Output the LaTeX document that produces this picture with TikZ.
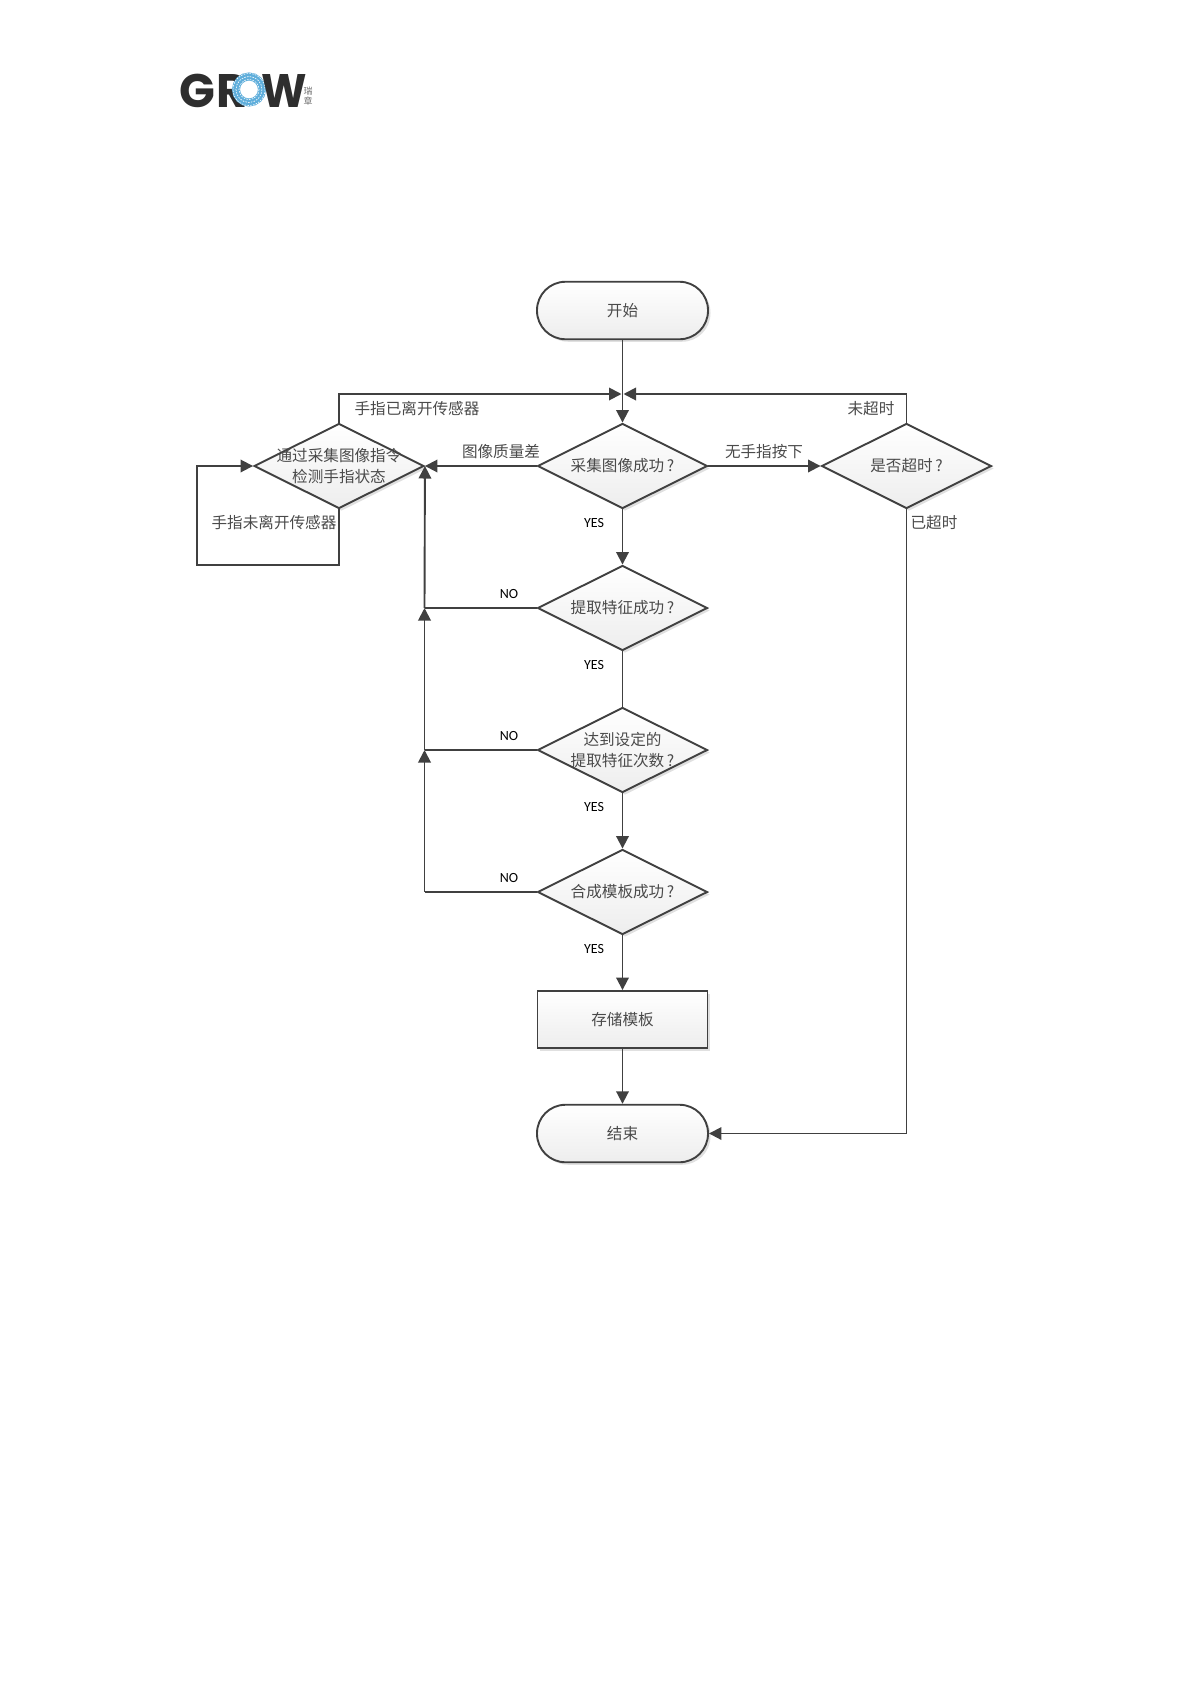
\documentclass[tikz,border=0pt]{standalone}
\usepackage{fontspec}
\setmainfont{Noto Sans CJK SC}
\newfontfamily\latinfont{Carlito}
\newfontfamily\logofont{Poppins}
\usetikzlibrary{shapes.geometric,arrows.meta,shadows,calc}
\definecolor{ink}{HTML}{404040}
\definecolor{txt}{HTML}{4A4A4A}
\definecolor{ringblue}{HTML}{5FAEDB}
\tikzset{
  x=1pt,y=-1pt,
  softshadow/.style={drop shadow={shadow xshift=2.5pt,shadow yshift=-2.5pt,fill=black,opacity=.12}},
  flowshape/.style={draw=ink,line width=1.9pt,top color=white,bottom color=black!7,softshadow,inner sep=0pt,font=\fontsize{15.6}{21}\selectfont,text=txt},
  dmd/.style={flowshape,diamond,aspect=2,minimum width=170pt,minimum height=85pt},
  term/.style={flowshape,rectangle,rounded corners=28.5pt,minimum width=171pt,minimum height=57.5pt},
  proc/.style={flowshape,rectangle,minimum width=170pt,minimum height=57pt},
  cjklab/.style={inner sep=0pt,font=\fontsize{15.6}{21}\selectfont,text=txt,align=center},
  latlab/.style={inner sep=0pt,font=\latinfont\fontsize{14}{16}\selectfont,text=black},
  arr/.style={draw=ink,line width=1.9pt,-{Triangle[length=12.5pt,width=12.5pt]}},
  lin/.style={draw=ink,line width=1.9pt},
  logoletter/.style={inner sep=0pt,font=\logofont\bfseries\fontsize{47}{47}\selectfont,text=black!82},
}
\begin{document}
\begin{tikzpicture}
\useasboundingbox (0,0) rectangle (1191,1684);
% logo
\node[logoletter,anchor=base west] (logoG) at (179,107) {G};
\node[logoletter,anchor=base west] (logoR) at (216,107) {R};
\node[circle,fill=white,draw=ringblue,line width=8pt,minimum size=26pt,inner sep=0pt] (logoO) at (249,89.5) {};
\foreach \rr/\cc in {10/white,13/white,16/white}{
  \draw[\cc,line width=.6pt,dash pattern=on 1.6pt off 1.2pt] (logoO.center) circle [radius=\rr];
}
\node[logoletter,anchor=base east,xscale=.92] (logoW) at (307,107) {W};
\node[inner sep=0pt,font=\fontsize{9}{10}\selectfont,text=black!55,align=center] (logoCn) at (308,96) {瑞\\章};
% shapes
\node[term] (start) at (622.5,310.5) {开始};
\node[dmd,label={[cjklab]center:采集图像成功\,?}] (d1) at (622.5,466) {};
\node[dmd,label={[cjklab]center:通过采集图像指令\\检测手指状态}] (dL) at (339,466) {};
\node[dmd,label={[cjklab]center:是否超时\,?}] (dT) at (906.5,466) {};
\node[dmd,label={[cjklab]center:提取特征成功\,?}] (d2) at (622.5,608) {};
\node[dmd,label={[cjklab]center:达到设定的\\提取特征次数\,?}] (d3) at (622.5,750) {};
\node[dmd,label={[cjklab]center:合成模板成功\,?}] (d4) at (622.5,892) {};
\node[proc] (store) at (622.5,1019.5) {存储模板};
\node[term] (end) at (622.5,1133.5) {结束};
\coordinate (j) at (622.5,394);
\coordinate (lp) at (197,565);
\coordinate (n2) at (424.5,608);
\coordinate (n3) at (424.5,750);
\coordinate (n4) at (424.5,892);
% connectors
\draw[lin] (start) -- (j);
\draw[arr] (j) -- (d1.north);
\draw[arr] (dL.north) |- ($(j)+(-1,0)$);
\draw[arr] (dT.north) |- ($(j)+(1,0)$);
\draw[arr] (d1.west) -- (dL.east);
\draw[arr] (d1.east) -- (dT.west);
\draw[arr] (d1.south) -- (d2.north);
\draw[lin] (d2.south) -- (d3.north);
\draw[arr] (d3.south) -- (d4.north);
\draw[arr] (d4.south) -- (store.north);
\draw[arr] (store.south) -- (end.north);
\draw[arr] (dT.south) |- (end.east);
\draw[lin] (d2.west) -- (n2);
\draw[arr] (n2) -- (dL.east);
\draw[lin] (d3.west) -- (n3);
\draw[arr] (n3) -- (n2);
\draw[lin] (d4.west) -- (n4);
\draw[arr] (n4) -- (n3);
\draw[arr] (dL.south) |- (lp) |- (dL.west);
% labels
\node[cjklab] (l1) at (417,409) {手指已离开传感器};
\node[cjklab] (l2) at (274,522.5) {手指未离开传感器};
\node[cjklab] (l3) at (501,452) {图像质量差};
\node[cjklab] (l4) at (764,452) {无手指按下};
\node[cjklab] (l5) at (871,409) {未超时};
\node[cjklab] (l6) at (934,522.5) {已超时};
\node[latlab] (y1) at (594,522.5) {YES};
\node[latlab] (y2) at (594,664.5) {YES};
\node[latlab] (y3) at (594,806.5) {YES};
\node[latlab] (y4) at (594,948.5) {YES};
\node[latlab] (n5) at (509,593.5) {NO};
\node[latlab] (n6) at (509,735.5) {NO};
\node[latlab] (n7) at (509,877.5) {NO};
\end{tikzpicture}
\end{document}
